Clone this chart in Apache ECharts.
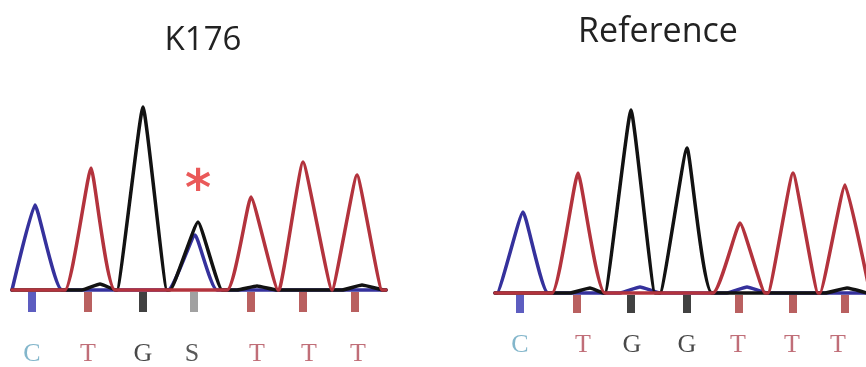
<!DOCTYPE html>
<html>
<head>
<meta charset="utf-8">
<title>Chromatogram: K176 vs Reference</title>
<script src="https://cdn.jsdelivr.net/npm/echarts@6/dist/echarts.min.js"></script>
<style>
  html, body { margin: 0; padding: 0; background: #ffffff; }
  #chart { width: 866px; height: 367px; }
</style>
</head>
<body>
<div id="chart"></div>
<script>
// ---- Data (scan offset, signal) ----------------------------------------
// Peaks per dye channel: [apex scan, height, start scan, end scan]
const k176Blue  = [[23, 85, 0, 50], [183, 55, 156, 205]];
const k176Red   = [[79, 122, 53, 103], [239, 93, 215, 266], [291, 128, 267, 320], [345, 115, 320, 370]];
const k176Black = [[88, 6, 70, 104], [131, 183, 105, 155], [186, 68, 158, 210], [245, 4, 225, 265], [350, 5, 330, 372]];
const k176Calls    = ['C', 'T', 'G', 'S', 'T', 'T', 'T'];
const k176CallScan = [20, 76, 131, 182, 239, 291, 343];
const k176TextScan = [20, 76, 131, 180, 245, 297, 346];
const k176Span = 374;
const k176Mutation = [186, 98];   // position of the variant marker

const refBlue  = [[28, 81, 2, 53], [145, 6, 125, 165], [252, 6, 232, 272]];
const refRed   = [[83, 120, 57, 110], [245, 70, 218, 270], [298, 120, 273, 323], [350, 108, 325, 375]];
const refBlack = [[95, 5, 75, 109], [136, 183, 110, 160], [192, 145, 165, 217], [352, 5, 330, 372]];
const refCalls    = ['C', 'T', 'G', 'G', 'T', 'T', 'T'];
const refCallScan = [25, 82, 136, 192, 244, 298, 350];
const refTextScan = [25, 88, 137, 192, 243, 297, 343];
const refSpan = 371;

const titles = ['K176', 'Reference'];

// ---- Styles --------------------------------------------------------------
const DYE = { blue: '#35319c', red: '#b3333d', black: '#121212' };
const CALL_TICK = { C: '#3434b0', T: '#a83838', G: '#111111', S: '#8a8a8a' };
const CALL_TEXT = { C: '#64a4be', T: '#b04a56', G: '#1a1a1a', S: '#2e2e2e' };

// turn a peak list into a continuous trace along the baseline
function trace(peaks, span) {
  const pts = [[0, 0]];
  peaks.slice().sort((a, b) => a[2] - b[2]).forEach(([apex, h, s, e]) => {
    pts.push([s, 0], [apex, h], [e, 0]);
  });
  pts.push([Math.max(span, pts[pts.length - 1][0]), 0]);
  return pts;
}

function dyeSeries(peaks, span, color, gi) {
  return {
    type: 'line', xAxisIndex: gi, yAxisIndex: gi,
    data: trace(peaks, span), showSymbol: false, smooth: 0.12,
    lineStyle: { color: color, width: 3.5, join: 'round', cap: 'round' },
    silent: true, animation: false
  };
}

function callTicks(calls, scans, gi, y, h) {
  return {
    type: 'scatter', xAxisIndex: gi, yAxisIndex: gi, silent: true, animation: false,
    symbol: 'rect', symbolSize: [8, h],
    data: calls.map((c, i) => ({ value: [scans[i], y], itemStyle: { color: CALL_TICK[c] } }))
  };
}

function callText(calls, scans, gi, y) {
  return {
    type: 'scatter', xAxisIndex: gi, yAxisIndex: gi, silent: true, animation: false,
    symbolSize: 0,
    data: calls.map((c, i) => ({
      value: [scans[i], y], name: c,
      label: { color: CALL_TEXT[c] }
    })),
    label: {
      show: true, position: 'inside', formatter: p => p.name,
      fontFamily: 'Liberation Serif', fontSize: 26
    }
  };
}

const chart = echarts.init(document.getElementById('chart'), null, { renderer: 'canvas' });

const axisOff = { show: false };
chart.setOption({
  backgroundColor: '#ffffff',
  animation: false,
  title: [
    { text: titles[0], left: 198, top: 19, textAlign: 'center',
      textStyle: { fontFamily: 'Open Sans', fontSize: 33, fontWeight: 'normal', color: '#222' } },
    { text: titles[1], left: 653, top: 10, textAlign: 'center',
      textStyle: { fontFamily: 'Open Sans', fontSize: 34, fontWeight: 'normal', color: '#222' } }
  ],
  grid: [
    { left: 12, width: 374, top: 100, height: 260 },
    { left: 495, width: 371, top: 103, height: 260 }
  ],
  xAxis: [
    Object.assign({ type: 'value', gridIndex: 0, min: 0, max: k176Span }, axisOff),
    Object.assign({ type: 'value', gridIndex: 1, min: 0, max: refSpan }, axisOff)
  ],
  yAxis: [
    Object.assign({ type: 'value', gridIndex: 0, min: -70, max: 190 }, axisOff),
    Object.assign({ type: 'value', gridIndex: 1, min: -70, max: 190 }, axisOff)
  ],
  series: [
    dyeSeries(k176Blue, k176Span, DYE.blue, 0),
    dyeSeries(k176Black, k176Span, DYE.black, 0),
    dyeSeries(k176Red, k176Span, DYE.red, 0),
    callTicks(k176Calls, k176CallScan, 0, -12, 20),
    callText(k176Calls, k176TextScan, 0, -64),
    {
      type: 'scatter', xAxisIndex: 0, yAxisIndex: 0, silent: true, animation: false,
      symbolSize: 0, data: [k176Mutation],
      label: { show: true, position: 'inside', formatter: '*', fontFamily: 'DejaVu Sans',
               fontWeight: 'bold', fontSize: 50, color: '#e5302f' }
    },

    dyeSeries(refBlue, refSpan, DYE.blue, 1),
    dyeSeries(refBlack, refSpan, DYE.black, 1),
    dyeSeries(refRed, refSpan, DYE.red, 1),
    callTicks(refCalls, refCallScan, 1, -11, 18),
    callText(refCalls, refTextScan, 1, -52)
  ]
});
</script>
</body>
</html>
